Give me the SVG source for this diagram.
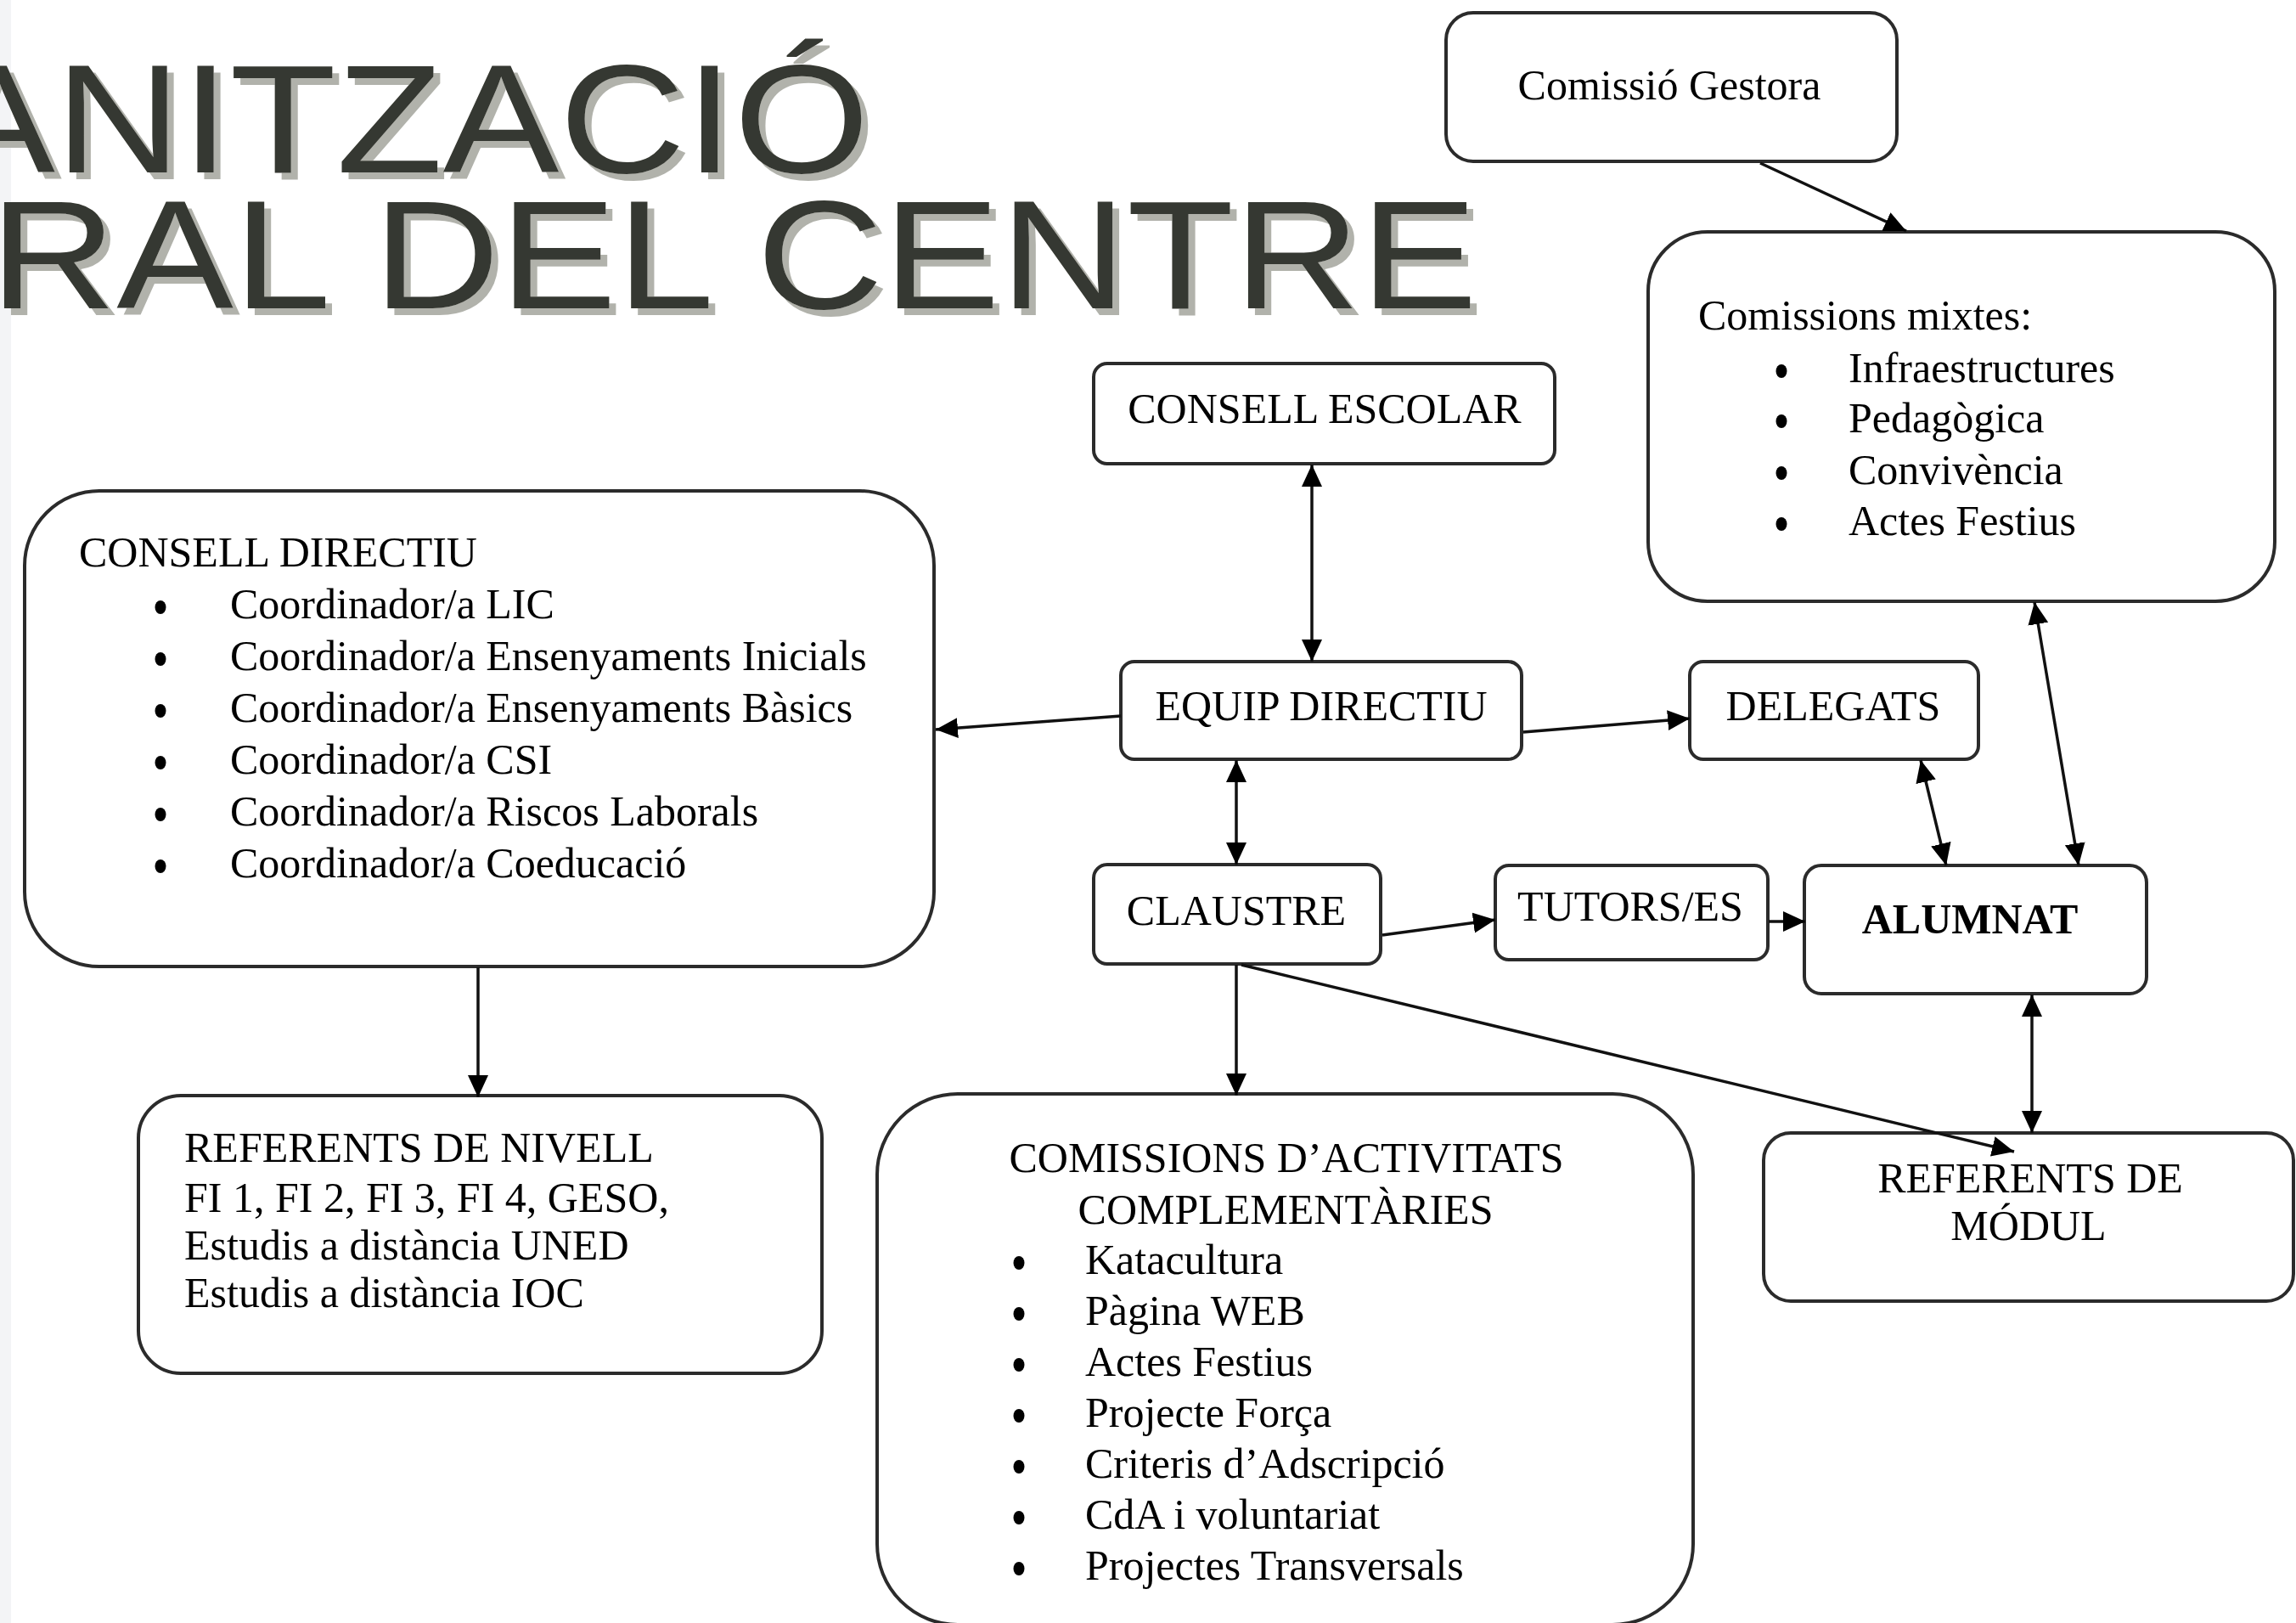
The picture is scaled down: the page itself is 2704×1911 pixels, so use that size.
<svg xmlns="http://www.w3.org/2000/svg" width="2704" height="1911" viewBox="0 0 2704 1911">
<style>
.box{fill:#fff;stroke:#2b2b2b;stroke-width:4}
.t{font-family:"Liberation Serif","Times New Roman",serif;font-size:50px;fill:#000}
.c{text-anchor:middle}
.b{fill:#000}
.ttl{font-family:"Liberation Sans",Arial,sans-serif;font-size:182px;fill:#363830;filter:url(#sh)}
.conn line{stroke:#111;stroke-width:3.5;fill:none}
.one{marker-end:url(#ah)}
.two{marker-end:url(#ah);marker-start:url(#ah)}
</style>
<defs>
<marker id="ah" markerUnits="userSpaceOnUse" markerWidth="28" markerHeight="26" refX="26" refY="12" orient="auto-start-reverse" viewBox="0 0 28 26">
<path d="M0,0 L26,12 L0,24 z" fill="#000"/>
</marker>
<filter id="sh" x="-10%" y="-20%" width="125%" height="150%">
<feOffset in="SourceAlpha" dx="8" dy="8" result="o"/>
<feFlood flood-color="#b1b2ab"/>
<feComposite in2="o" operator="in" result="s"/>
<feMerge><feMergeNode in="s"/><feMergeNode in="SourceGraphic"/></feMerge>
</filter>
</defs>
<rect x="0" y="0" width="2704" height="1911" fill="#fff"/>
<rect x="0" y="0" width="13" height="1911" fill="#f3f4f6"/>

<g id="title">
<text class="ttl" x="-72" y="203" textLength="1096" lengthAdjust="spacingAndGlyphs">ANITZACIÓ</text>
<text class="ttl" x="-12" y="363" textLength="1752" lengthAdjust="spacingAndGlyphs">RAL DEL CENTRE</text>
</g>

<g id="comissio-gestora">
<rect class="box" x="1703" y="15" width="531" height="175" rx="32"/>
<text class="t c" x="1966" y="117">Comissió Gestora</text>
</g>

<g id="comissions-mixtes">
<rect class="box" x="1941" y="273" width="738" height="435" rx="70"/>
<text class="t" x="2000" y="388">Comissions mixtes:</text>
<ellipse class="b" cx="2098" cy="437" rx="6.5" ry="8"/>
<ellipse class="b" cx="2098" cy="496" rx="6.5" ry="8"/>
<ellipse class="b" cx="2098" cy="557" rx="6.5" ry="8"/>
<ellipse class="b" cx="2098" cy="617" rx="6.5" ry="8"/>
<text class="t" x="2177" y="450">Infraestructures</text>
<text class="t" x="2177" y="509">Pedagògica</text>
<text class="t" x="2177" y="570">Convivència</text>
<text class="t" x="2177" y="630">Actes Festius</text>
</g>

<g id="consell-escolar">
<rect class="box" x="1288" y="428" width="543" height="118" rx="16"/>
<text class="t c" x="1560" y="498" font-size="52">CONSELL ESCOLAR</text>
</g>

<g id="consell-directiu">
<rect class="box" x="29" y="578" width="1071" height="560" rx="88"/>
<text class="t" x="93" y="667">CONSELL DIRECTIU</text>
<ellipse class="b" cx="189" cy="715" rx="6.5" ry="8"/>
<ellipse class="b" cx="189" cy="776" rx="6.5" ry="8"/>
<ellipse class="b" cx="189" cy="837" rx="6.5" ry="8"/>
<ellipse class="b" cx="189" cy="898" rx="6.5" ry="8"/>
<ellipse class="b" cx="189" cy="959" rx="6.5" ry="8"/>
<ellipse class="b" cx="189" cy="1020" rx="6.5" ry="8"/>
<text class="t" x="271" y="728">Coordinador/a LIC</text>
<text class="t" x="271" y="789">Coordinador/a Ensenyaments Inicials</text>
<text class="t" x="271" y="850">Coordinador/a Ensenyaments Bàsics</text>
<text class="t" x="271" y="911">Coordinador/a CSI</text>
<text class="t" x="271" y="972">Coordinador/a Riscos Laborals</text>
<text class="t" x="271" y="1033">Coordinador/a Coeducació</text>
</g>

<g id="equip-directiu">
<rect class="box" x="1320" y="779" width="472" height="115" rx="16"/>
<text class="t c" x="1556" y="848">EQUIP DIRECTIU</text>
</g>

<g id="delegats">
<rect class="box" x="1990" y="779" width="340" height="115" rx="16"/>
<text class="t c" x="2159" y="848">DELEGATS</text>
</g>

<g id="claustre">
<rect class="box" x="1288" y="1018" width="338" height="117" rx="16"/>
<text class="t c" x="1456" y="1089">CLAUSTRE</text>
</g>

<g id="tutors">
<rect class="box" x="1761" y="1019" width="321" height="111" rx="16"/>
<text class="t c" x="1920" y="1084" font-size="44">TUTORS/ES</text>
</g>

<g id="alumnat">
<rect class="box" x="2125" y="1019" width="403" height="151" rx="20"/>
<text class="t c" x="2320" y="1099" font-size="58" font-weight="bold">ALUMNAT</text>
</g>

<g id="referents-nivell">
<rect class="box" x="163" y="1290" width="805" height="327" rx="50"/>
<text class="t" x="217" y="1368">REFERENTS DE NIVELL</text>
<text class="t" x="217" y="1427">FI 1, FI 2, FI 3, FI 4, GESO,</text>
<text class="t" x="217" y="1483">Estudis a distància UNED</text>
<text class="t" x="217" y="1539">Estudis a distància IOC</text>
</g>

<g id="comissions-activitats">
<rect class="box" x="1033" y="1288" width="961" height="625" rx="95"/>
<text class="t c" x="1515" y="1380">COMISSIONS D’ACTIVITATS</text>
<text class="t c" x="1514" y="1441">COMPLEMENTÀRIES</text>
<ellipse class="b" cx="1200" cy="1487" rx="6.5" ry="8"/>
<ellipse class="b" cx="1200" cy="1547" rx="6.5" ry="8"/>
<ellipse class="b" cx="1200" cy="1607" rx="6.5" ry="8"/>
<ellipse class="b" cx="1200" cy="1667" rx="6.5" ry="8"/>
<ellipse class="b" cx="1200" cy="1727" rx="6.5" ry="8"/>
<ellipse class="b" cx="1200" cy="1787" rx="6.5" ry="8"/>
<ellipse class="b" cx="1200" cy="1847" rx="6.5" ry="8"/>
<text class="t" x="1278" y="1500">Katacultura</text>
<text class="t" x="1278" y="1560">Pàgina WEB</text>
<text class="t" x="1278" y="1620">Actes Festius</text>
<text class="t" x="1278" y="1680">Projecte Força</text>
<text class="t" x="1278" y="1740">Criteris d’Adscripció</text>
<text class="t" x="1278" y="1800">CdA i voluntariat</text>
<text class="t" x="1278" y="1860">Projectes Transversals</text>
</g>

<g id="referents-modul">
<rect class="box" x="2077" y="1334" width="624" height="198" rx="32"/>
<text class="t c" x="2391" y="1404">REFERENTS DE</text>
<text class="t c" x="2389" y="1460">MÓDUL</text>
</g>

<g id="connectors" class="conn">
<line class="one" x1="2073" y1="192" x2="2245" y2="272"/>
<line class="two" x1="1545" y1="547" x2="1545" y2="779"/>
<line class="one" x1="1320" y1="843" x2="1102" y2="859"/>
<line class="one" x1="1794" y1="862" x2="1990" y2="846"/>
<line class="two" x1="1456" y1="895" x2="1456" y2="1018"/>
<line class="one" x1="1628" y1="1101" x2="1761" y2="1083"/>
<line class="one" x1="2083" y1="1085" x2="2126" y2="1085"/>
<line class="two" x1="2262" y1="895" x2="2292" y2="1019"/>
<line class="two" x1="2396" y1="709" x2="2448" y2="1019"/>
<line class="two" x1="2393" y1="1171" x2="2393" y2="1334"/>
<line class="one" x1="1462" y1="1136" x2="2372" y2="1356"/>
<line class="one" x1="1456" y1="1136" x2="1456" y2="1290"/>
<line class="one" x1="563" y1="1139" x2="563" y2="1292"/>
</g>
</svg>
